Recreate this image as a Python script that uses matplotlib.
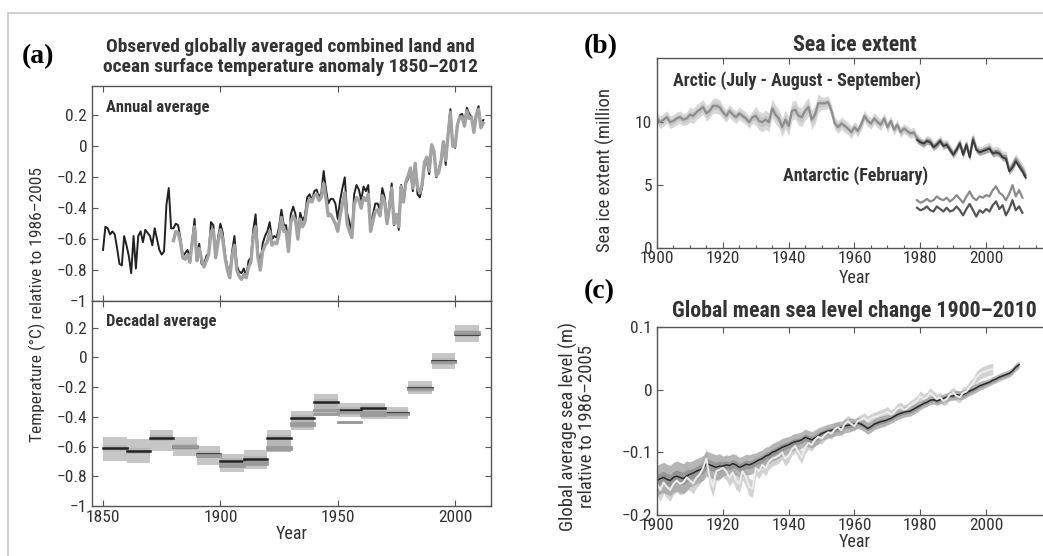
import numpy as np
import matplotlib
matplotlib.use("Agg")
import matplotlib.pyplot as plt
from matplotlib.lines import Line2D
from matplotlib.ticker import MultipleLocator
from matplotlib import font_manager

# prefer a narrow sans (the original uses a condensed face); fall back to Liberation Sans
have = {f.name for f in font_manager.fontManager.ttflist}
narrow = [f for f in ['Liberation Sans Narrow', 'Roboto Condensed', 'Open Sans Condensed',
                      'Liberation Sans', 'DejaVu Sans'] if f in have]
plt.rcParams['font.family'] = narrow + ['DejaVu Sans']

# ---- (a) annual temperature anomaly, relative to 1986-2005 ----
years_black = np.arange(1850, 2013)
temp_black = [
    -0.67, -0.52, -0.53, -0.57, -0.55, -0.57, -0.66, -0.76, -0.77, -0.58,
    -0.64, -0.71, -0.82, -0.58, -0.79, -0.58, -0.55, -0.62, -0.54, -0.56,
    -0.58, -0.64, -0.53, -0.60, -0.67, -0.70, -0.68, -0.38, -0.27, -0.53,
    -0.53, -0.50, -0.51, -0.60, -0.71, -0.69, -0.67, -0.72, -0.61, -0.47,
    -0.72, -0.63, -0.76, -0.77, -0.71, -0.69, -0.49, -0.51, -0.71, -0.59,
    -0.50, -0.56, -0.70, -0.78, -0.82, -0.68, -0.58, -0.77, -0.81, -0.82,
    -0.79, -0.84, -0.74, -0.72, -0.54, -0.44, -0.68, -0.77, -0.63, -0.58,
    -0.55, -0.49, -0.60, -0.58, -0.59, -0.52, -0.41, -0.51, -0.51, -0.65,
    -0.44, -0.39, -0.44, -0.57, -0.43, -0.48, -0.45, -0.33, -0.31, -0.35,
    -0.29, -0.28, -0.33, -0.30, -0.16, -0.28, -0.37, -0.34, -0.34, -0.37,
    -0.47, -0.35, -0.27, -0.20, -0.43, -0.49, -0.57, -0.31, -0.25, -0.28,
    -0.35, -0.26, -0.29, -0.25, -0.52, -0.44, -0.37, -0.37, -0.41, -0.27,
    -0.33, -0.49, -0.37, -0.24, -0.51, -0.45, -0.54, -0.25, -0.36, -0.24,
    -0.21, -0.16, -0.29, -0.11, -0.31, -0.33, -0.26, -0.11, -0.10, -0.18,
    -0.00, -0.05, -0.20, -0.15, -0.09, 0.03, -0.12, 0.09, 0.24, 0.01,
    -0.01, 0.14, 0.20, 0.21, 0.15, 0.25, 0.21, 0.19, 0.10, 0.21,
    0.26, 0.13, 0.17]

years_grey = np.arange(1880, 2013)
temp_grey = [
    -0.61, -0.55, -0.56, -0.62, -0.72, -0.73, -0.70, -0.75, -0.62, -0.52,
    -0.74, -0.66, -0.73, -0.78, -0.74, -0.70, -0.55, -0.54, -0.72, -0.62,
    -0.54, -0.60, -0.72, -0.80, -0.85, -0.71, -0.64, -0.80, -0.84, -0.86,
    -0.83, -0.85, -0.78, -0.75, -0.58, -0.52, -0.72, -0.80, -0.68, -0.64,
    -0.62, -0.55, -0.64, -0.62, -0.63, -0.57, -0.46, -0.55, -0.55, -0.68,
    -0.49, -0.45, -0.48, -0.60, -0.47, -0.52, -0.49, -0.38, -0.34, -0.36,
    -0.32, -0.31, -0.35, -0.33, -0.24, -0.34, -0.45, -0.44, -0.47, -0.50,
    -0.55, -0.45, -0.37, -0.30, -0.50, -0.55, -0.59, -0.38, -0.33, -0.35,
    -0.40, -0.33, -0.35, -0.31, -0.55, -0.48, -0.42, -0.41, -0.45, -0.32,
    -0.36, -0.50, -0.40, -0.27, -0.50, -0.44, -0.52, -0.26, -0.36, -0.23,
    -0.19, -0.14, -0.27, -0.11, -0.27, -0.30, -0.24, -0.10, -0.07, -0.16,
    0.01, -0.03, -0.19, -0.17, -0.10, 0.03, -0.09, 0.07, 0.22, 0.00,
    0.00, 0.14, 0.19, 0.19, 0.13, 0.23, 0.18, 0.19, 0.09, 0.20,
    0.24, 0.12, 0.15]

# ---- (a) decadal averages ----
dec_start = np.arange(1850, 2010, 10)
dec_black = [-0.61, -0.63, -0.545, -0.60, -0.652, -0.70, -0.683, -0.539,
             -0.407, -0.298, -0.352, -0.341, -0.374, -0.204, -0.022, 0.16]
dec_lo = [-0.70, -0.71, -0.63, -0.665, -0.726, -0.774, -0.754, -0.628,
          -0.487, -0.396, -0.40, -0.417, -0.415, -0.243, -0.078, 0.104]
dec_hi = [-0.535, -0.55, -0.49, -0.535, -0.595, -0.65, -0.624, -0.487,
          -0.36, -0.243, -0.309, -0.309, -0.335, -0.157, 0.03, 0.22]
dec_grey1 = [np.nan, np.nan, np.nan, -0.60, -0.66, -0.72, -0.705, -0.617,
             -0.454, -0.357, -0.365, -0.367, -0.378, -0.21, -0.03, 0.165]
dec_grey2 = [np.nan, np.nan, np.nan, -0.595, -0.665, -0.73, -0.72, -0.60,
             -0.44, -0.383, -0.437, -0.39, -0.375, -0.205, -0.025, 0.17]

# ---- (b) sea ice extent (million km2) ----
years_arctic = np.arange(1900, 2013)
arctic = [
    10.3, 10.0, 10.2, 10.4, 10.0, 10.1, 10.3, 10.4, 10.2, 10.3,
    10.6, 10.5, 10.8, 11.0, 11.2, 10.7, 10.9, 11.3, 11.3, 11.2,
    10.8, 10.5, 10.9, 10.6, 10.4, 10.7, 10.5, 10.3, 10.0, 10.4,
    10.5, 10.1, 10.0, 10.2, 10.0, 11.1, 10.6, 10.3, 9.6, 10.2,
    9.7, 10.9, 11.0, 10.5, 10.4, 10.9, 11.2, 10.2, 10.6, 11.5,
    11.5, 11.5, 11.6, 10.9, 9.9, 9.6, 9.9, 9.7, 9.5, 9.2,
    9.6, 9.3, 9.8, 10.5, 10.1, 9.9, 10.3, 10.0, 9.8, 10.3,
    9.6, 10.1, 9.4, 9.8, 9.2, 9.5, 9.3, 9.1, 9.2, 8.7,
    8.5, 8.3, 8.6, 8.5, 8.1, 8.3, 8.6, 8.2, 8.3, 7.9,
    7.5, 7.9, 8.4, 7.5, 8.3, 7.3, 8.8, 7.9, 7.7, 7.8,
    7.9, 8.0, 7.6, 7.7, 7.6, 7.3, 7.3, 6.2, 6.6, 7.1,
    6.7, 6.3, 5.8]
arctic_halfwidth_decade = [0.5, 0.6, 0.5, 0.75, 0.75, 0.5, 0.45, 0.4, 0.35, 0.35, 0.4, 0.4]

years_sat = np.arange(1979, 2013)
arctic_sat = [8.6, 8.4, 8.3, 8.5, 8.4, 8.0, 8.2, 8.5, 8.1, 8.2,
              7.8, 7.4, 7.8, 8.3, 7.4, 8.2, 7.2, 8.6, 7.8, 7.6,
              7.7, 7.8, 7.9, 7.5, 7.6, 7.5, 7.2, 7.1, 6.1, 6.4,
              6.9, 6.5, 6.1, 5.6]

years_ant = np.arange(1979, 2012)
antarctic_hi = [3.8, 3.6, 3.7, 3.9, 3.7, 3.8, 4.1, 3.9, 3.8, 4.0,
                3.7, 3.9, 4.2, 3.9, 3.6, 4.1, 4.5, 4.0, 3.8, 4.1,
                4.0, 4.2, 4.1, 4.6, 4.9, 4.4, 4.2, 3.8, 4.3, 5.0,
                4.1, 4.6, 4.0]
antarctic_lo = [3.2, 3.0, 3.1, 3.3, 3.0, 2.9, 3.3, 3.1, 2.9, 3.2,
                2.9, 3.0, 3.3, 3.0, 2.6, 3.1, 3.5, 3.0, 2.5, 3.0,
                2.8, 3.1, 2.9, 3.4, 3.7, 3.1, 3.4, 2.6, 3.1, 3.8,
                3.0, 3.3, 2.8]

# ---- (c) global mean sea level (m), relative to 1986-2005 ----
years_sl = np.arange(1900, 2011)
sl_dark = [
    -0.145, -0.142, -0.140, -0.143, -0.145, -0.140, -0.138, -0.140, -0.142, -0.138,
    -0.135, -0.133, -0.130, -0.128, -0.125, -0.118, -0.120, -0.122, -0.124, -0.122,
    -0.122, -0.120, -0.121, -0.118, -0.120, -0.124, -0.122, -0.119, -0.120, -0.118,
    -0.115, -0.112, -0.110, -0.106, -0.104, -0.100, -0.098, -0.095, -0.092, -0.090,
    -0.088, -0.085, -0.083, -0.082, -0.080, -0.076, -0.078, -0.080, -0.077, -0.074,
    -0.070, -0.068, -0.066, -0.065, -0.063, -0.062, -0.061, -0.058, -0.057, -0.056,
    -0.055, -0.053, -0.055, -0.058, -0.062, -0.059, -0.055, -0.053, -0.051, -0.050,
    -0.048, -0.046, -0.043, -0.040, -0.038, -0.036, -0.035, -0.034, -0.031, -0.028,
    -0.025, -0.022, -0.020, -0.017, -0.016, -0.018, -0.016, -0.014, -0.012, -0.010,
    -0.010, -0.008, -0.009, -0.008, -0.005, -0.002, 0.000, 0.003, 0.006, 0.008,
    0.010, 0.012, 0.015, 0.017, 0.020, 0.022, 0.024, 0.026, 0.030, 0.036,
    0.040]
sl_dark_halfwidth_decade = [0.024, 0.02, 0.016, 0.014, 0.013, 0.011, 0.009, 0.008, 0.007, 0.007, 0.006, 0.006]

years_sl_light = np.arange(1900, 2003)
sl_light = [
    -0.150, -0.160, -0.148, -0.155, -0.160, -0.150, -0.145, -0.150, -0.148, -0.140,
    -0.145, -0.150, -0.140, -0.135, -0.125, -0.110, -0.140, -0.155, -0.130, -0.128,
    -0.125, -0.130, -0.140, -0.132, -0.145, -0.150, -0.130, -0.140, -0.155, -0.158,
    -0.125, -0.130, -0.120, -0.125, -0.115, -0.110, -0.108, -0.105, -0.100, -0.110,
    -0.105, -0.095, -0.090, -0.100, -0.108, -0.092, -0.085, -0.088, -0.080, -0.075,
    -0.078, -0.072, -0.068, -0.070, -0.063, -0.060, -0.065, -0.055, -0.050, -0.055,
    -0.058, -0.050, -0.048, -0.045, -0.050, -0.046, -0.044, -0.042, -0.040, -0.038,
    -0.035, -0.040, -0.037, -0.030, -0.028, -0.032, -0.030, -0.025, -0.022, -0.018,
    -0.010, -0.015, -0.012, -0.005, -0.010, -0.015, -0.012, -0.018, -0.015, -0.008,
    -0.005, -0.010, -0.012, -0.005, -0.003, 0.005, 0.010, 0.020, 0.025, 0.028,
    0.030, 0.032, 0.033]
sl_light_halfwidth_decade = [0.018, 0.016, 0.014, 0.012, 0.010, 0.009, 0.008, 0.008, 0.008, 0.009, 0.009]

# ---------------------------------------------------------------
W, H = 1043, 556
fig = plt.figure(figsize=(W / 100, H / 100), dpi=100)
renderer = fig.canvas.get_renderer()

def box(l, t, r, b):
    return [l / W, 1 - b / H, (r - l) / W, (b - t) / H]

def fit(txt, width_px):
    # shrink a text until its widest line fits the width it has in the original
    while txt.get_window_extent(renderer).width > width_px and txt.get_fontsize() > 6:
        txt.set_fontsize(txt.get_fontsize() - 0.25)

spine_col = '#555555'
txt_col = '#333333'
tick_kw = dict(direction='in', length=4, width=0.8, color=spine_col,
               labelsize=12.5, labelcolor=txt_col, top=True, right=True)

def style(ax):
    for s in ax.spines.values():
        s.set_color(spine_col)
        s.set_linewidth(1.0)
    ax.tick_params(which='both', **tick_kw)

# page border
fig.add_artist(Line2D([8 / W, 1], [1 - 13 / H, 1 - 13 / H], color='#c8c8c8', lw=1.2))
fig.add_artist(Line2D([8 / W, 8 / W], [0, 1 - 13 / H], color='#c8c8c8', lw=1.2))

minus = lambda v: ('%g' % v).replace('-', '\u2212')

# (a) annual
ax1 = fig.add_axes(box(92, 86, 491, 301))
ax1.plot(years_black, temp_black, color='#222222', lw=1.4, zorder=2)
ax1.plot(years_grey, temp_grey, color='#a3a3a3', lw=2.4, zorder=3)
ax1.set_xlim(1845.3, 2015.3)
ax1.set_ylim(-1, 0.39)
yt = [0.2, 0, -0.2, -0.4, -0.6, -0.8, -1]
ax1.set_yticks(yt)
ax1.set_yticklabels([minus(v) for v in yt])
ax1.set_xticks([1850, 1900, 1950, 2000])
ax1.set_xticklabels([])
style(ax1)
ax1.text(0.035, 0.935, 'Annual average', transform=ax1.transAxes, fontsize=12,
         fontweight='bold', color=txt_col, va='top')

# (a) decadal
ax2 = fig.add_axes(box(92, 301, 491, 506))
for i, d in enumerate(dec_start):
    ax2.fill_between([d, d + 10], dec_lo[i], dec_hi[i], color='#c6c6c6', lw=0, zorder=1)
    ref = dec_black[i] if np.isnan(dec_grey1[i]) else dec_grey1[i]
    ax2.fill_between([d, d + 10], min(dec_black[i], ref) - 0.02, max(dec_black[i], ref) + 0.02,
                     color='#b6b6b6', lw=0, zorder=1)
    if not np.isnan(dec_grey2[i]):
        g2 = dec_grey2[i]
        if g2 < dec_lo[i] or g2 > dec_hi[i]:
            ax2.fill_between([d, d + 10], g2 - 0.008, g2 + 0.008, color='#c6c6c6', lw=0, zorder=1)
        ax2.plot([d, d + 10], [g2, g2], color='#9a9a9a', lw=2, zorder=2)
    ax2.plot([d, d + 10], [dec_black[i], dec_black[i]], color='#222222', lw=1.8, zorder=3)
    if not np.isnan(dec_grey1[i]):
        ax2.plot([d, d + 10], [dec_grey1[i], dec_grey1[i]], color='#9a9a9a', lw=2, zorder=4)
ax2.set_xlim(1845.3, 2015.3)
ax2.set_ylim(-1, 0.38)
ax2.set_yticks(yt)
ax2.set_yticklabels([minus(v) for v in yt])
ax2.set_xticks([1850, 1900, 1950, 2000])
style(ax2)
ax2.tick_params(axis='x', pad=3)
ax2.set_xlabel('Year', fontsize=13, color=txt_col, labelpad=0)
ax2.text(0.035, 0.935, 'Decadal average', transform=ax2.transAxes, fontsize=12,
         fontweight='bold', color=txt_col, va='top')

fig.text(37 / W, 1 - 305 / H, 'Temperature (\u00b0C) relative to 1986\u20132005',
         rotation=90, ha='center', va='center', fontsize=12.5, color=txt_col)
t = fig.text(290 / W, 1 - 57 / H,
             'Observed globally averaged combined land and\nocean surface temperature anomaly 1850\u20132012',
             ha='center', va='center', fontsize=15, fontweight='bold', color=txt_col,
             linespacing=1.1)
fit(t, 377)
fig.text(22 / W, 1 - 57 / H, '(a)', fontsize=20, fontweight='bold',
         family='Liberation Serif', va='center')

# (b) sea ice
ax3 = fig.add_axes(box(657, 58, 1052, 248))
hw = np.repeat(arctic_halfwidth_decade, [10] * 11 + [3])
arc = np.array(arctic)
ax3.fill_between(years_arctic, arc - hw, arc + hw, color='#d8d8d8', lw=0)
ax3.fill_between(years_arctic, arc - hw * 0.5, arc + hw * 0.5, color='#c6c6c6', lw=0)
sat = np.array(arctic_sat)
ax3.fill_between(years_sat, sat - 0.25, sat + 0.25, color='#8a8a8a', lw=0, alpha=0.6)
ax3.plot(years_arctic, arctic, color='#8e8e8e', lw=1.6)
ax3.plot(years_sat, arctic_sat, color='#3a3a3a', lw=1.4)
ax3.plot(years_ant, antarctic_hi, color='#8a8a8a', lw=1.6)
ax3.plot(years_ant, antarctic_lo, color='#555555', lw=1.6)
ax3.set_xlim(1900, 2020)
ax3.set_ylim(0, 15.1)
ax3.set_yticks([0, 5, 10])
ax3.set_xticks(np.arange(1900, 2001, 20))
ax3.xaxis.set_minor_locator(MultipleLocator(5))
style(ax3)
ax3.tick_params(which='minor', top=False, length=2.5)
ax3.tick_params(axis='x', pad=2)
ax3.set_xlabel('Year', fontsize=13, color=txt_col, labelpad=2)
ax3.set_ylabel('Sea ice extent (million', fontsize=13.5, color=txt_col)
ax3.yaxis.set_label_coords(-0.106, 0.41)
tb = ax3.set_title('Sea ice extent', fontsize=16, fontweight='bold', color=txt_col, pad=5)
fit(tb, 124)
ax3.text(0.04, 0.93, 'Arctic (July - August - September)', transform=ax3.transAxes,
         fontsize=13, fontweight='bold', color=txt_col, va='top')
ax3.text(0.32, 0.43, 'Antarctic (February)', transform=ax3.transAxes,
         fontsize=13, fontweight='bold', color=txt_col, va='top')
fig.text(584 / W, 1 - 47 / H, '(b)', fontsize=20, fontweight='bold',
         family='Liberation Serif', va='center')

# (c) sea level
ax4 = fig.add_axes(box(657, 327, 1052, 515))
d = np.array(sl_dark)
dh = np.repeat(sl_dark_halfwidth_decade, [10] * 11 + [1])
li = np.array(sl_light)
lh = np.repeat(sl_light_halfwidth_decade, [10] * 10 + [3])
ax4.fill_between(years_sl_light, li - lh, li + lh, color='#d2d2d2', lw=0)
ax4.fill_between(years_sl, d - dh, d + dh, color='#a4a4a4', lw=0, alpha=0.8)
ax4.fill_between(years_sl, d - dh * 0.4, d + dh * 0.4, color='#8a8a8a', lw=0, alpha=0.7)
ax4.plot(years_sl, sl_dark, color='#2a2a2a', lw=1.1)
ax4.plot(years_sl_light, sl_light, color='#ececec', lw=1.4)
ax4.set_xlim(1900, 2020)
ax4.set_ylim(-0.2, 0.1)
st = [0.1, 0, -0.1, -0.2]
ax4.set_yticks(st)
ax4.set_yticklabels([minus(v) for v in st])
ax4.set_xticks(np.arange(1900, 2001, 20))
style(ax4)
ax4.tick_params(axis='x', pad=2)
ax4.set_xlabel('Year', fontsize=13, color=txt_col, labelpad=0)
ax4.set_ylabel('Global average sea level (m)\nrelative to 1986\u20132005', fontsize=13.5,
               color=txt_col, linespacing=0.95)
ax4.yaxis.set_label_coords(-0.155, 0.47)
tc = ax4.set_title('Global mean sea level change 1900\u20132010', fontsize=16,
                   fontweight='bold', color=txt_col, pad=7)
fit(tc, 366)
fig.text(584 / W, 1 - 292 / H, '(c)', fontsize=20, fontweight='bold',
         family='Liberation Serif', va='center')

fig.savefig('out.png', dpi=100)
